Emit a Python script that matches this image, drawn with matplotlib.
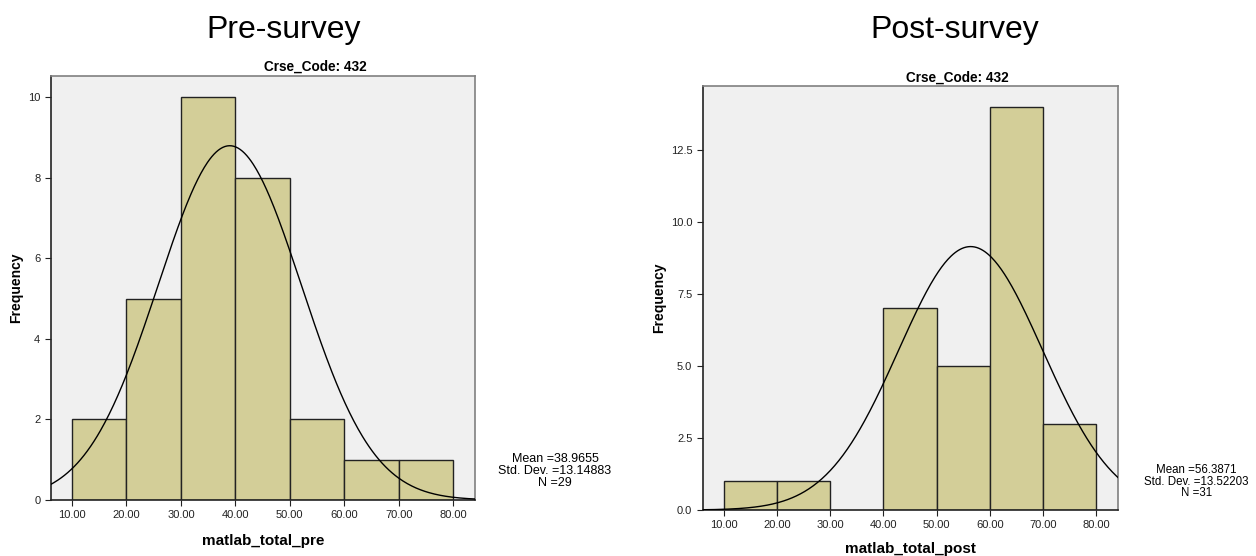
import numpy as np
import matplotlib
matplotlib.use("Agg")
import matplotlib.pyplot as plt

plt.rcParams["font.family"] = ["Liberation Sans", "DejaVu Sans"]

# --- data ----------------------------------------------------------------
bin_edges = [10, 20, 30, 40, 50, 60, 70, 80]
pre_counts = [2, 5, 10, 8, 2, 1, 1]
post_counts = [1, 1, 0, 7, 5, 14, 3]

pre_stats = {"mean": 38.9655, "sd": 13.14883, "n": 29}
post_stats = {"mean": 56.3871, "sd": 13.52203, "n": 31}

x_ticks = [10, 20, 30, 40, 50, 60, 70, 80]
pre_yticks = [0, 2, 4, 6, 8, 10]
post_yticks = [0.0, 2.5, 5.0, 7.5, 10.0, 12.5]

BAR = "#D3CE98"
FACE = "#F0F0F0"


def draw_panel(fig, rect, counts, stats, yticks, ytick_fmt, ylim, xlabel,
               xpad, title, title_x, sub_x, sub_y, stats_x, stats_y,
               stats_size):
    ax = fig.add_axes(rect)
    ax.set_facecolor(FACE)
    lefts = bin_edges[:-1]
    widths = np.diff(bin_edges)
    for l, w, c in zip(lefts, widths, counts):
        if c > 0:
            ax.bar(l, c, width=w, align="edge", color=BAR,
                   edgecolor="#222222", linewidth=1.0, zorder=2)

    # normal curve scaled to the histogram
    xs = np.linspace(5, 85, 400)
    bw = bin_edges[1] - bin_edges[0]
    ys = stats["n"] * bw / (stats["sd"] * np.sqrt(2 * np.pi)) * \
        np.exp(-0.5 * ((xs - stats["mean"]) / stats["sd"]) ** 2)
    ax.plot(xs, ys, color="black", linewidth=1.0, zorder=3)

    ax.set_xlim(6.1, 84.0)
    ax.set_ylim(0, ylim)
    ax.set_xticks(x_ticks)
    ax.set_xticklabels([f"{v:.2f}" for v in x_ticks])
    ax.set_yticks(yticks)
    ax.set_yticklabels([ytick_fmt.format(v) for v in yticks])
    ax.tick_params(axis="both", labelsize=8, length=4, width=0.8,
                   colors="#222222", direction="out")
    for s in ax.spines.values():
        s.set_color("#808080")
        s.set_linewidth(1.2)
    ax.spines["bottom"].set_color("#222222")
    ax.spines["left"].set_color("#222222")

    ax.set_ylabel("Frequency", fontsize=10, fontweight="bold", labelpad=3.5)
    ax.set_xlabel(xlabel, fontsize=11, fontweight="bold", labelpad=xpad)

    fig.text(sub_x, sub_y, "Crse_Code: 432", ha="center", va="center",
             fontsize=9.8, fontweight="bold")
    fig.text(title_x, 0.946, title, ha="center", va="center", fontsize=23)
    fig.text(stats_x, stats_y,
             f"Mean ={stats['mean']:.4f}\nStd. Dev. ={stats['sd']:.5f}\nN ={stats['n']}",
             ha="center", va="center", fontsize=stats_size, linespacing=0.95)
    return ax


fig = plt.figure(figsize=(12.56, 5.56), dpi=100)
fig.set_facecolor("white")

draw_panel(fig, [0.0404, 0.1007, 0.3378, 0.7626], pre_counts, pre_stats,
           pre_yticks, "{:.0f}", 10.53, "matlab_total_pre", 10,
           "Pre-survey", 0.2261, 0.2508, 0.880, 0.4419, 0.1529, 9.0)
draw_panel(fig, [0.5595, 0.0827, 0.3304, 0.7631], post_counts, post_stats,
           post_yticks, "{:.1f}", 14.73, "matlab_total_post", 8,
           "Post-survey", 0.7604, 0.7620, 0.861, 0.9528, 0.1333, 8.3)

fig.savefig("out.png", dpi=100)
plt.close(fig)
